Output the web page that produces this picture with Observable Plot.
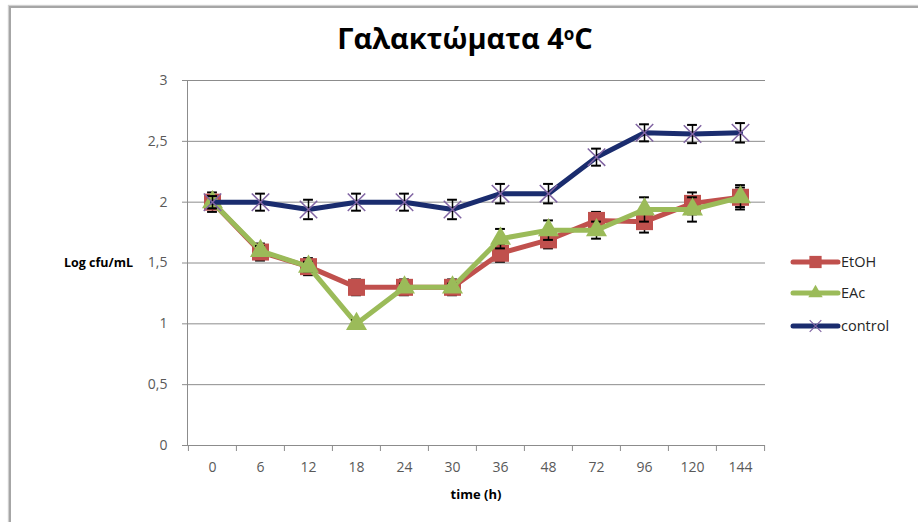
<!DOCTYPE html>
<html><head><meta charset="utf-8">
<script src="https://cdn.jsdelivr.net/npm/d3@7"></script>
<script src="https://cdn.jsdelivr.net/npm/@observablehq/plot@0.6"></script>
<style>
body{margin:0;background:#fff;}
#wrap{position:relative;width:918px;height:522px;font-family:"Open Sans",sans-serif;overflow:hidden;}
#wrap svg{position:absolute;left:0;top:0;}
.frame{position:absolute;left:9px;top:6px;width:1000px;height:1000px;border-left:2px solid #a6a6a6;border-top:2px solid #a6a6a6;box-shadow:-1px -1px 1px #d0d0d0;}
.title{position:absolute;left:465px;top:21px;transform:translateX(-50%);font-weight:bold;font-size:29px;white-space:nowrap;color:#000;line-height:34px;}
.title sup{font-size:17px;vertical-align:9px;line-height:0;}
.ylab{position:absolute;right:785px;top:254px;font-weight:bold;font-size:12.5px;white-space:nowrap;color:#000;line-height:18px;}
.xlab{position:absolute;left:476px;top:485px;transform:translateX(-50%);font-weight:bold;font-size:13px;white-space:nowrap;color:#000;line-height:18px;}
</style></head><body>
<div id="wrap">
  <div class="frame"></div>
  <div class="title">Γαλακτώματα 4<sup>o</sup>C</div>
  <div class="ylab">Log cfu/mL</div>
  <div class="xlab">time (h)</div>
</div>
<script>
const times = ["0","6","12","18","24","30","36","48","72","96","120","144"];
const etoh = [2.0,1.59,1.47,1.30,1.30,1.30,1.58,1.69,1.85,1.84,1.99,2.04];
const etohErr = [0.08,0.07,0.07,0.065,0.065,0.065,0.07,0.07,0.07,0.09,0.09,0.08];
const eac = [2.0,1.6,1.47,1.0,1.3,1.3,1.7,1.77,1.77,1.94,1.94,2.04];
const eacErr = [0.05,0.04,0.04,0.03,0.03,0.03,0.08,0.08,0.07,0.1,0.1,0.1];
const control = [2.0,2.0,1.94,2.0,2.0,1.94,2.07,2.07,2.37,2.57,2.56,2.57];
const controlErr = [0.05,0.07,0.08,0.07,0.07,0.08,0.08,0.08,0.07,0.07,0.075,0.08];
const yTicks = [0,0.5,1,1.5,2,2.5,3];
const yTickLabels = ["0","0,5","1","1,5","2","2,5","3"];
const seriesNames = ["EtOH","EAc","control"];
const colors = {EtOH:"#C0504D", EAc:"#9BBB59", control:"#1A2C6E"};
const markerColor = "#8064A2";

const W = 918, H = 522, mL = 187, mR = 153, mT = 80, mB = 77;
const bw = (W - mL - mR) / times.length;
const mk = (vals, errs) => times.map((t, i) => ({t, v: vals[i], e: errs[i]}));
const dE = mk(etoh, etohErr), dA = mk(eac, eacErr), dC = mk(control, controlErr);
const grid = "#8c8c8c";

function errMarks(data) {
  return [
    Plot.ruleX(data, {x: "t", y1: d => d.v - d.e, y2: d => d.v + d.e, stroke: "#000", strokeWidth: 1.5}),
    Plot.tickY(data, {x: "t", y: d => d.v + d.e, insetLeft: bw/2 - 5, insetRight: bw/2 - 5, stroke: "#000", strokeWidth: 2}),
    Plot.tickY(data, {x: "t", y: d => d.v - d.e, insetLeft: bw/2 - 5, insetRight: bw/2 - 5, stroke: "#000", strokeWidth: 2})
  ];
}

const chart = Plot.plot({
  width: W, height: H,
  marginLeft: mL, marginRight: mR, marginTop: mT, marginBottom: mB,
  style: {fontFamily: "Open Sans, sans-serif", background: "transparent", overflow: "visible"},
  x: {type: "band", domain: times, padding: 0, axis: null},
  y: {domain: [0, 3], axis: null},
  marks: [
    Plot.gridY(yTicks, {stroke: grid, strokeOpacity: 1}),
    Plot.axisY({ticks: yTicks, tickSize: 5, tickPadding: 15, tickFormat: (d) => yTickLabels[yTicks.indexOf(d)], fontSize: 14, stroke: grid, fill: "#595959", label: null}),
    Plot.frame({anchor: "left", stroke: grid}),
    Plot.ruleY([0], {stroke: grid}),
    Plot.axisX({tickSize: 6, tickFormat: () => "", dx: -bw/2, stroke: grid, label: null}),
    Plot.axisX({ticks: [times[times.length - 1]], tickSize: 6, tickFormat: () => "", dx: bw/2, stroke: grid, label: null}),
    Plot.axisX({tickSize: 0, tickPadding: 17, fontSize: 14, fill: "#595959", label: null}),
    Plot.line(dE, {x: "t", y: "v", stroke: colors.EtOH, strokeWidth: 5}),
    ...errMarks(dE),
    Plot.dot(dE, {x: "t", y: "v", symbol: "square", r: 9.6, fill: colors.EtOH}),
    Plot.line(dA, {x: "t", y: "v", stroke: colors.EAc, strokeWidth: 5}),
    ...errMarks(dA),
    Plot.dot(dA, {x: "t", y: "v", symbol: "triangle", r: 7.8, fill: colors.EAc}),
    Plot.line(dC, {x: "t", y: "v", stroke: colors.control, strokeWidth: 5}),
    ...errMarks(dC),
    Plot.dot(dC, {x: "t", y: "v", symbol: "times", r: 8, stroke: markerColor, strokeWidth: 1.5})
  ]
});
const wrap = document.getElementById("wrap");
wrap.insertBefore(chart, wrap.children[1]);

// legend
const legY = [12, 43, 76];
const ns = "http://www.w3.org/2000/svg";
const leg = document.createElementNS(ns, "svg");
leg.setAttribute("width", 128); leg.setAttribute("height", 100);
leg.style.position = "absolute"; leg.style.left = "790px"; leg.style.top = "250px";
const sym = {EtOH: d3.symbol(d3.symbolSquare, 150), EAc: d3.symbol(d3.symbolTriangle, 90), control: d3.symbol(d3.symbolTimes, 90)};
seriesNames.forEach((n, i) => {
  const y = legY[i];
  const l = document.createElementNS(ns, "line");
  l.setAttribute("x1", 3); l.setAttribute("x2", 48); l.setAttribute("y1", y); l.setAttribute("y2", y);
  l.setAttribute("stroke", colors[n]); l.setAttribute("stroke-width", 5); l.setAttribute("stroke-linecap", "round");
  leg.appendChild(l);
  const p = document.createElementNS(ns, "path");
  p.setAttribute("d", sym[n]()); p.setAttribute("transform", `translate(25.5,${y})`);
  if (n === "control") { p.setAttribute("fill", "none"); p.setAttribute("stroke", markerColor); p.setAttribute("stroke-width", 1.2); }
  else p.setAttribute("fill", colors[n]);
  leg.appendChild(p);
  const t = document.createElementNS(ns, "text");
  t.setAttribute("x", 51); t.setAttribute("y", y); t.setAttribute("dy", "0.35em");
  t.setAttribute("font-size", 14.5); t.setAttribute("font-family", "Open Sans, sans-serif"); t.setAttribute("fill", "#262626");
  t.textContent = n;
  leg.appendChild(t);
});
wrap.appendChild(leg);
</script>
</body></html>
